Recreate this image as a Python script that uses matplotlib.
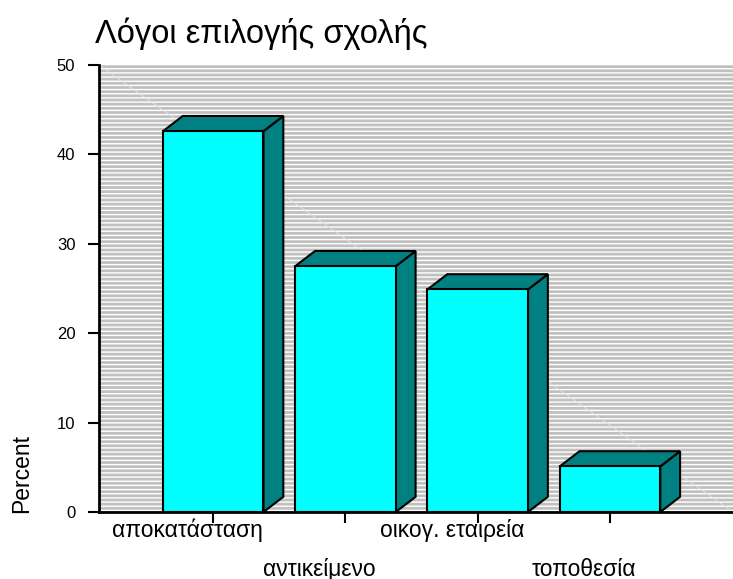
import matplotlib.pyplot as plt
from matplotlib.patches import Polygon, Rectangle
from matplotlib.transforms import ScaledTranslation

plt.rcParams['font.family'] = ['Liberation Sans', 'DejaVu Sans']
plt.rcParams['hatch.linewidth'] = 1.0

# Datos del gráfico
categorias = ['αποκατάσταση', 'αντικείμενο', 'οικογ. εταιρεία', 'τοποθεσία']
porcentajes = [42.6, 27.5, 24.9, 5.1]
yticks = [0, 10, 20, 30, 40, 50]

fig = plt.figure(figsize=(7.33, 5.79), dpi=100)
ax = fig.add_axes([0.135, 0.1157, 0.865, 0.772])

ancho = 0.76
prof_x = 0.15   # profundidad 3D en unidades del eje x
prof_y = 1.7    # profundidad 3D en unidades del eje y

# Fondo gris con rayas blancas horizontales
ax.add_patch(Rectangle((0, 0), 1, 1, transform=ax.transAxes, facecolor='#C0C0C0',
                       edgecolor='white', hatch='----', linewidth=0, zorder=0))
ax.plot([0, 1], [1, 0], transform=ax.transAxes, color='#E4E4E4', lw=0.6, zorder=0.5)

pos = list(range(len(categorias)))
for x, v in zip(pos, porcentajes):
    izq = x - ancho / 2
    der = x + ancho / 2
    lado = Polygon([(der, 0), (der + prof_x, prof_y), (der + prof_x, v + prof_y), (der, v)],
                   closed=True, facecolor='#008080', edgecolor='black', lw=1.5, zorder=2)
    techo = Polygon([(izq, v), (izq + prof_x, v + prof_y), (der + prof_x, v + prof_y), (der, v)],
                    closed=True, facecolor='#008080', edgecolor='black', lw=1.5, zorder=2)
    ax.add_patch(lado)
    ax.add_patch(techo)
ax.bar(pos, porcentajes, width=ancho, color='#00FFFF', edgecolor='black', lw=1.5, zorder=3)

ax.set_xlim(-0.864, 3.93)
ax.set_ylim(0, 50)
ax.set_yticks(yticks)
ax.set_xticks(pos)
ax.set_xticklabels([])

# Etiquetas escalonadas, algo desplazadas a la izquierda
for i, (x, nombre) in enumerate(zip(pos, categorias)):
    bajar = 18 if i % 2 == 0 else 57
    tr = ax.get_xaxis_transform() + ScaledTranslation(-26 / 100, -bajar / 100, fig.dpi_scale_trans)
    ax.text(x, 0, nombre, transform=tr, ha='center', va='center', fontsize=16.5, clip_on=False)

ax.tick_params(axis='y', labelsize=12, length=8, width=1.5, pad=9)
ax.tick_params(axis='x', length=8, width=1.5)
for s in ['top', 'right']:
    ax.spines[s].set_visible(False)
for s in ['left', 'bottom']:
    ax.spines[s].set_linewidth(2)

ax.set_ylabel('Percent', fontsize=16.5)
ax.yaxis.set_label_coords(-0.104, 0.087)

fig.text(0.13, 0.925, 'Λόγοι επιλογής σχολής', fontsize=23.5)

fig.savefig('out.png', dpi=100)
